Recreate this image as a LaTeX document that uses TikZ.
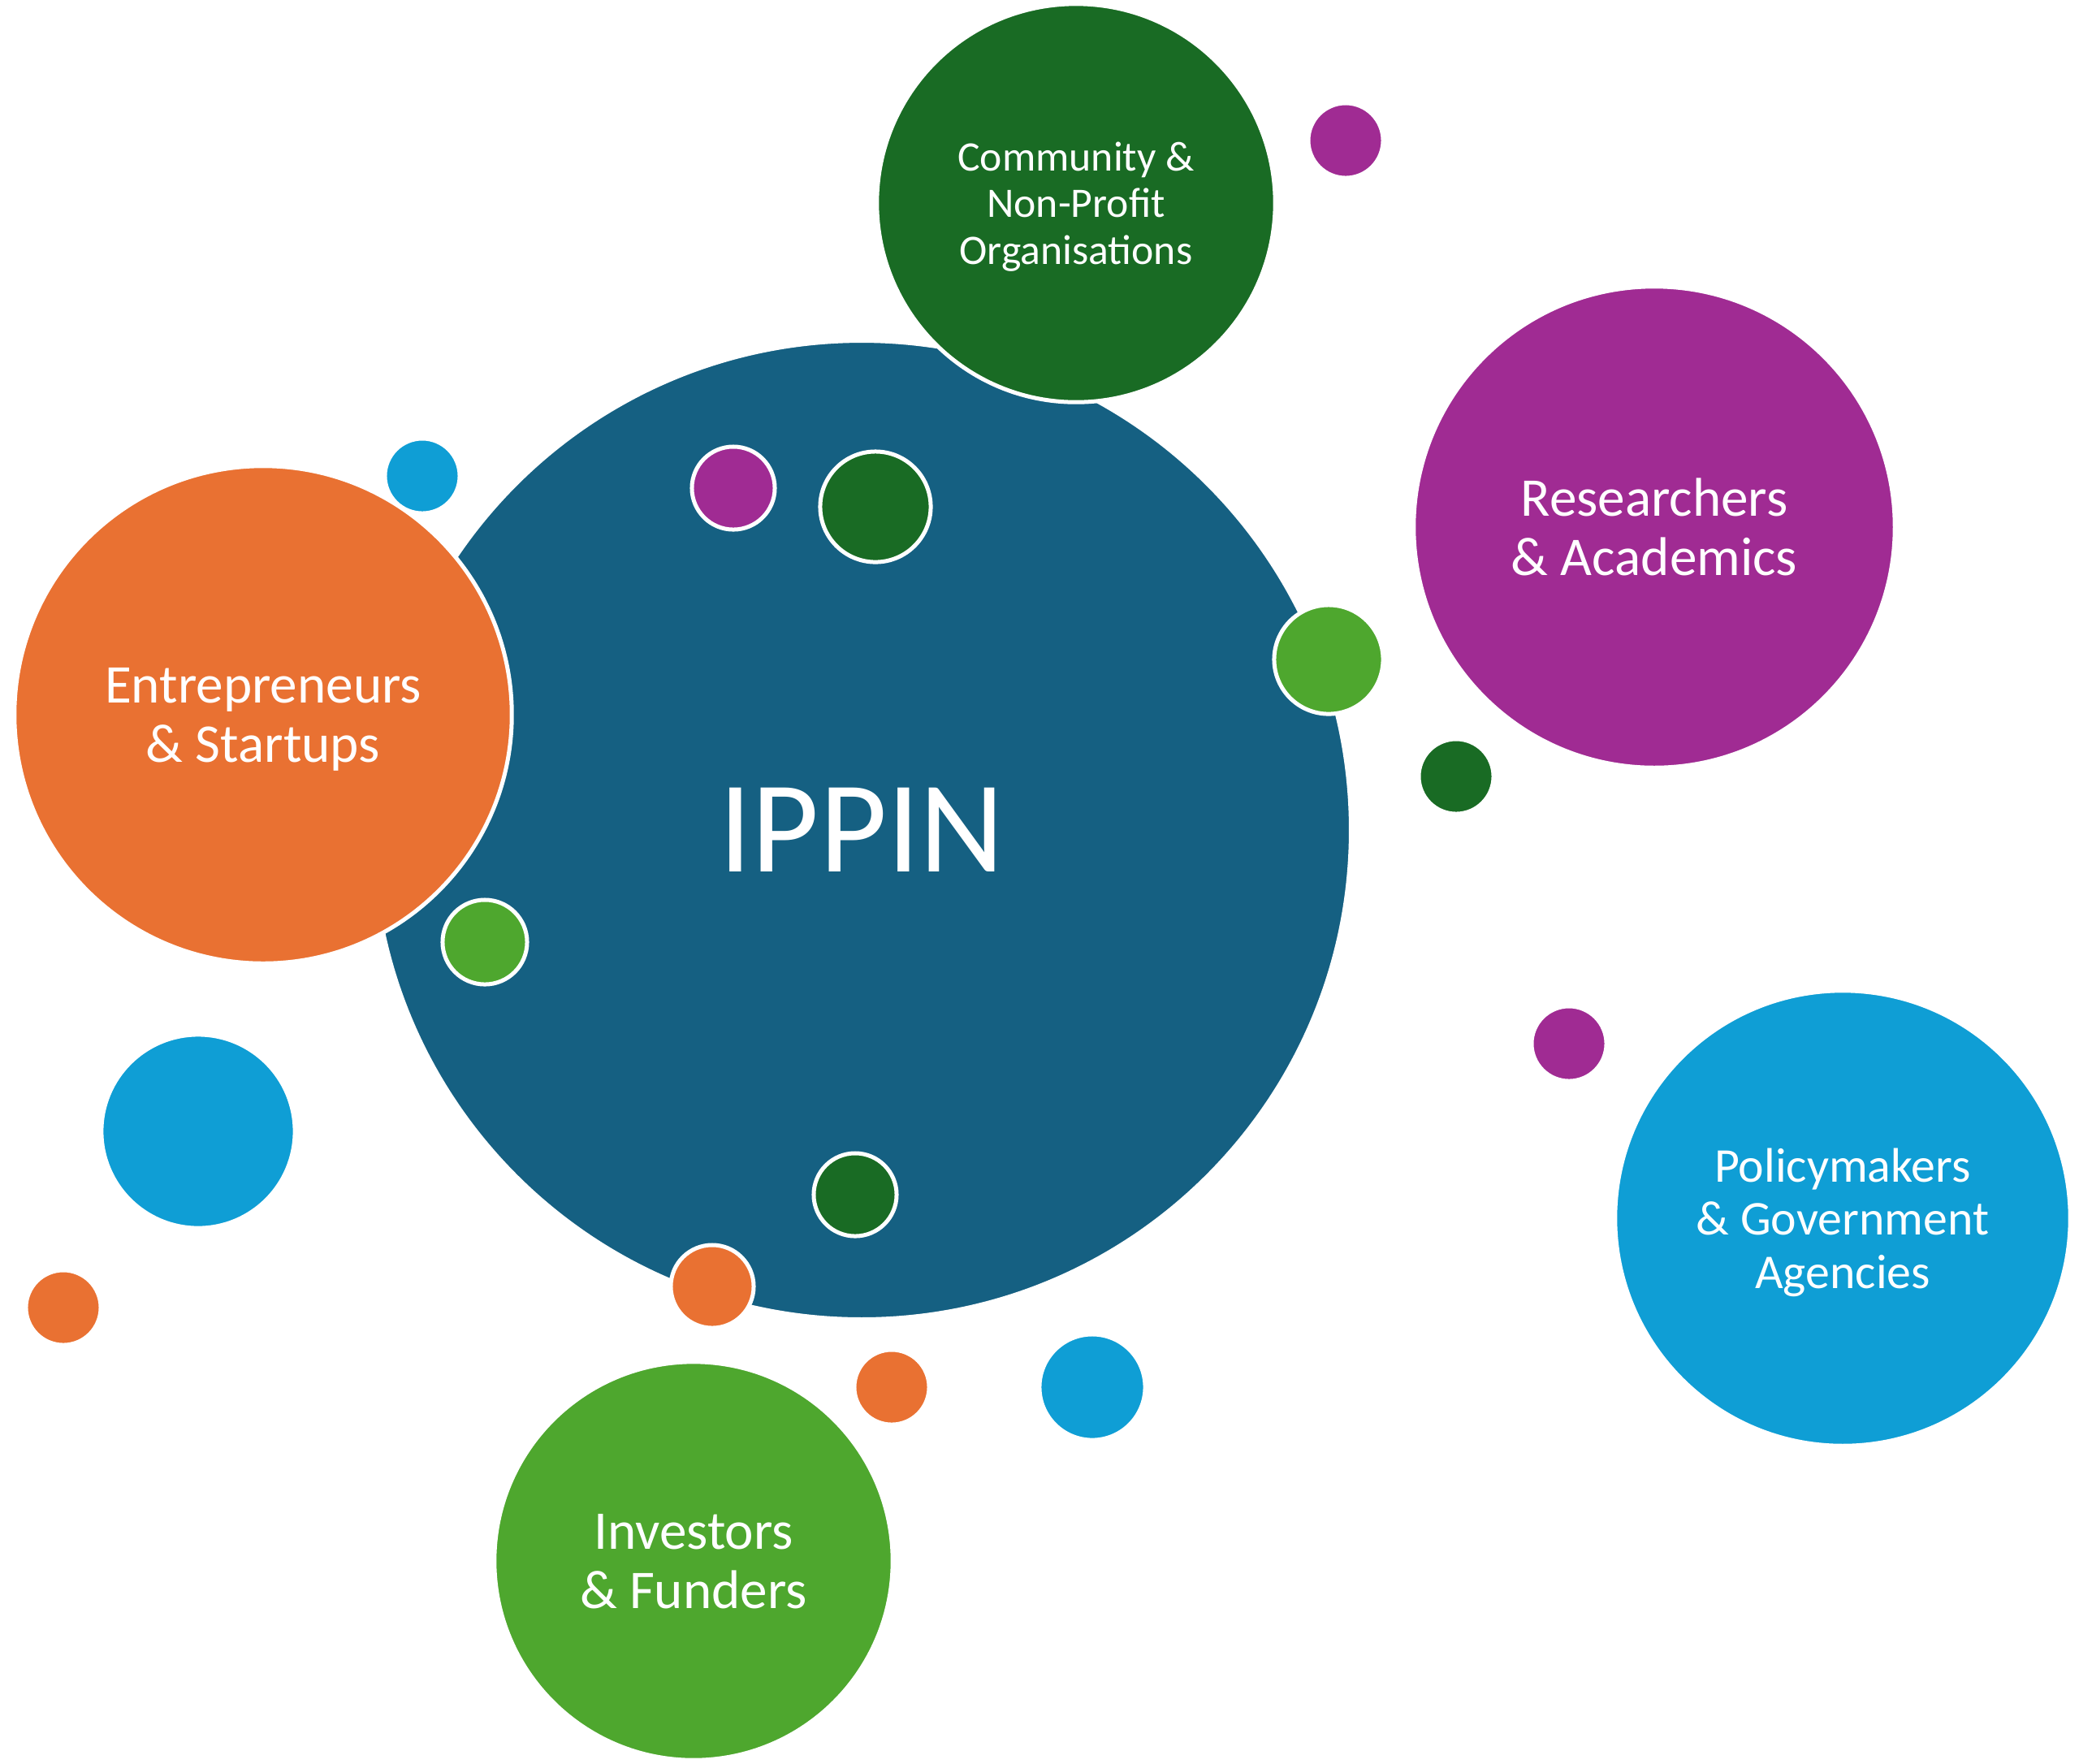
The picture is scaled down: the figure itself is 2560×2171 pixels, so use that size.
\documentclass[tikz,border=0pt]{standalone}
\usepackage{fontspec}
\setmainfont{Carlito}
\usetikzlibrary{positioning}
\definecolor{ippin}{HTML}{156082}
\definecolor{tangerine}{HTML}{E97132}
\definecolor{forest}{HTML}{196B24}
\definecolor{sky}{HTML}{0F9ED5}
\definecolor{plum}{HTML}{A02B93}
\definecolor{leaf}{HTML}{4EA72E}

\begin{document}
\begin{tikzpicture}[x=0.01cm, y=-0.01cm,
  bubble/.style={circle, draw=white, line width=0.05cm, fill=#1, inner sep=0pt,
    text=white, align=center, text depth=0pt},
  rad/.style={minimum size=#1*0.02cm},
  lbl/.style={font=\fontsize{19.1}{20.8}\selectfont},
  lblmid/.style={font=\fontsize{17.0}{18.7}\selectfont},
  lblsmall/.style={font=\fontsize{14.7}{16.4}\selectfont}]
\useasboundingbox (0,0) rectangle (2560,2171);

% Hub
\node[bubble=ippin, rad=602, font=\fontsize{45.8}{50}\selectfont] (ippin) at (1061,1022) {IPPIN};

% Stakeholder groups
\node[bubble=forest, rad=245, lblsmall] (community) at (1325,250) {Community \&\\Non-Profit\\Organisations};
\node[bubble=plum, rad=296, lbl] (research) at (2037,649) {Researchers\\\& Academics};
\node[bubble=tangerine, rad=306, lbl] (entre) at (324,880) {Entrepreneurs\\\& Startups};
\node[bubble=sky, rad=280, lblmid] (policy) at (2269,1500) {Policymakers\\\& Government\\Agencies};
\node[bubble=leaf, rad=245, lbl] (invest) at (854,1922) {Investors\\\& Funders};
\node[bubble=sky, rad=119] (skyleft) at (244,1393) {};

% Small dots
\foreach \n/\x/\y/\r/\c in {1/1657/173/46/plum, 2/520/586/46/sky, 3/903/601/51/plum,
    4/1078/624/68/forest, 5/1636/812/67/leaf, 6/1793/956/46/forest,
    7/597/1160/52/leaf, 8/1932/1285/46/plum, 9/1053/1471/51/forest,
    10/877/1584/51/tangerine, 11/1098/1708/46/tangerine, 12/1345/1708/65/sky,
    13/78/1610/46/tangerine}
  \node[bubble=\c, rad=\r] (dot\n) at (\x,\y) {};
\end{tikzpicture}
\end{document}
